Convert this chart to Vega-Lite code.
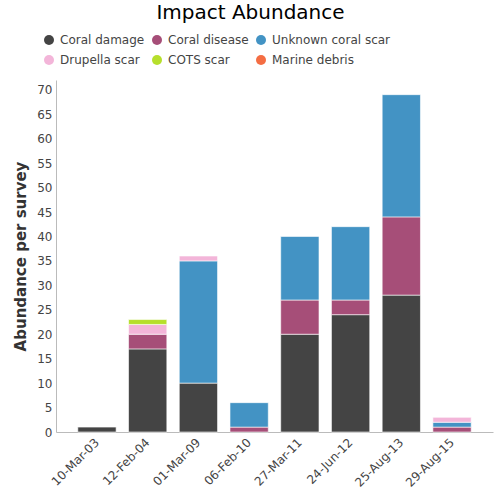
{
  "$schema": "https://vega.github.io/schema/vega-lite/v6.json",
  "autosize": {"type": "none"},
  "width": 437,
  "height": 352,
  "padding": {"left": 56, "top": 80, "right": 7, "bottom": 68},
  "config": {
    "font": "DejaVu Sans",
    "view": {"stroke": null},
    "axis": {"domainColor": "#bbbbbb", "ticks": false, "grid": false, "labelColor": "#444444", "labelFontSize": 12, "labelPadding": 4}
  },
  "title": {"text": "Impact Abundance", "fontSize": 20, "fontWeight": "normal", "color": "#000000", "anchor": "middle", "dx": -24, "offset": 11},
  "data": {
    "values": [
      {"date": "10-Mar-03", "type": "Coral damage", "o": 0, "v": 1},
      {"date": "12-Feb-04", "type": "Coral damage", "o": 0, "v": 17},
      {"date": "12-Feb-04", "type": "Coral disease", "o": 1, "v": 3},
      {"date": "12-Feb-04", "type": "Drupella scar", "o": 3, "v": 2},
      {"date": "12-Feb-04", "type": "COTS scar", "o": 4, "v": 1},
      {"date": "01-Mar-09", "type": "Coral damage", "o": 0, "v": 10},
      {"date": "01-Mar-09", "type": "Unknown coral scar", "o": 2, "v": 25},
      {"date": "01-Mar-09", "type": "Drupella scar", "o": 3, "v": 1},
      {"date": "06-Feb-10", "type": "Coral disease", "o": 1, "v": 1},
      {"date": "06-Feb-10", "type": "Unknown coral scar", "o": 2, "v": 5},
      {"date": "27-Mar-11", "type": "Coral damage", "o": 0, "v": 20},
      {"date": "27-Mar-11", "type": "Coral disease", "o": 1, "v": 7},
      {"date": "27-Mar-11", "type": "Unknown coral scar", "o": 2, "v": 13},
      {"date": "24-Jun-12", "type": "Coral damage", "o": 0, "v": 24},
      {"date": "24-Jun-12", "type": "Coral disease", "o": 1, "v": 3},
      {"date": "24-Jun-12", "type": "Unknown coral scar", "o": 2, "v": 15},
      {"date": "25-Aug-13", "type": "Coral damage", "o": 0, "v": 28},
      {"date": "25-Aug-13", "type": "Coral disease", "o": 1, "v": 16},
      {"date": "25-Aug-13", "type": "Unknown coral scar", "o": 2, "v": 25},
      {"date": "29-Aug-15", "type": "Coral disease", "o": 1, "v": 1},
      {"date": "29-Aug-15", "type": "Unknown coral scar", "o": 2, "v": 1},
      {"date": "29-Aug-15", "type": "Drupella scar", "o": 3, "v": 1}
    ]
  },
  "mark": {"type": "bar", "stroke": "#ffffff", "strokeOpacity": 0.6, "strokeWidth": 1},
  "encoding": {
    "x": {
      "field": "date", "type": "nominal",
      "sort": ["10-Mar-03", "12-Feb-04", "01-Mar-09", "06-Feb-10", "27-Mar-11", "24-Jun-12", "25-Aug-13", "29-Aug-15"],
      "scale": {"paddingInner": 0.245, "paddingOuter": 0.43},
      "axis": {"title": null, "labelAngle": -45, "labelAlign": "right", "labelBaseline": "middle", "labelPadding": 8}
    },
    "y": {
      "field": "v", "type": "quantitative", "stack": "zero",
      "scale": {"domain": [0, 72], "nice": false},
      "axis": {"title": "Abundance per survey", "values": [0,5,10,15,20,25,30,35,40,45,50,55,60,65,70], "titleFontSize": 15, "titleFontWeight": "bold", "titleColor": "#333333", "titlePadding": 8}
    },
    "color": {
      "field": "type", "type": "nominal",
      "scale": {
        "domain": ["Coral damage", "Coral disease", "Unknown coral scar", "Drupella scar", "COTS scar", "Marine debris"],
        "range": ["#444444", "#a64e78", "#4393c4", "#f3b5d9", "#b6df2c", "#f46d43"]
      },
      "legend": {
        "title": null, "orient": "none", "legendX": -13, "legendY": -46,
        "direction": "horizontal", "columns": 3, "gridAlign": "none",
        "symbolType": "circle", "symbolSize": 100, "symbolStrokeWidth": 0,
        "labelFontSize": 12, "labelColor": "#444444", "rowPadding": 8, "columnPadding": 6, "labelOffset": 5
      }
    },
    "order": {"field": "o", "type": "quantitative"}
  }
}
